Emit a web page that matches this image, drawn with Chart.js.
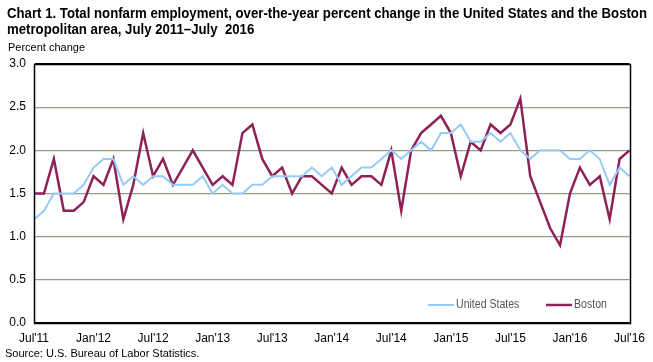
<!DOCTYPE html>
<html>
<head>
<meta charset="utf-8">
<script src="https://cdn.jsdelivr.net/npm/chart.js@4.4.1/dist/chart.umd.min.js"></script>
<style>
  html, body { margin: 0; padding: 0; background: #fff; }
  #wrap { position: relative; width: 653px; height: 362px; overflow: hidden; }
  canvas { position: absolute; left: 0; top: 0; }
  .t { position: absolute; font-family: "Liberation Sans", Arial, sans-serif; color: #000; white-space: nowrap; }
  #title { left: 7px; top: 5px; font-size: 14.5px; font-weight: bold; line-height: 16px; transform-origin: 0 0; }
  #title span { display: inline-block; }
  #unit { left: 8px; top: 41px; font-size: 11px; }
  #source { left: 5px; top: 347px; font-size: 11px; }
</style>
</head>
<body>
<div id="wrap">
  <canvas id="c" width="653" height="362"></canvas>
  <div class="t" id="title"><span id="l1">Chart 1. Total nonfarm employment, over-the-year percent change in the United States and the Boston</span><br><span>metropolitan area, July 2011–July&nbsp; 2016</span></div>
  <div class="t" id="unit">Percent change</div>
  <div class="t" id="source">Source: U.S. Bureau of Labor Statistics.</div>
</div>
<script>
const categories = [
  "Jul'11","Aug'11","Sep'11","Oct'11","Nov'11","Dec'11",
  "Jan'12","Feb'12","Mar'12","Apr'12","May'12","Jun'12",
  "Jul'12","Aug'12","Sep'12","Oct'12","Nov'12","Dec'12",
  "Jan'13","Feb'13","Mar'13","Apr'13","May'13","Jun'13",
  "Jul'13","Aug'13","Sep'13","Oct'13","Nov'13","Dec'13",
  "Jan'14","Feb'14","Mar'14","Apr'14","May'14","Jun'14",
  "Jul'14","Aug'14","Sep'14","Oct'14","Nov'14","Dec'14",
  "Jan'15","Feb'15","Mar'15","Apr'15","May'15","Jun'15",
  "Jul'15","Aug'15","Sep'15","Oct'15","Nov'15","Dec'15",
  "Jan'16","Feb'16","Mar'16","Apr'16","May'16","Jun'16",
  "Jul'16"
];
const tickLabels = ["Jul'11","Jan'12","Jul'12","Jan'13","Jul'13","Jan'14","Jul'14","Jan'15","Jul'15","Jan'16","Jul'16"];
const unitedStates = [
  1.2,1.3,1.5,1.5,1.5,1.6,1.8,1.9,1.9,1.6,
  1.7,1.6,1.7,1.7,1.6,1.6,1.6,1.7,1.5,1.6,
  1.5,1.5,1.6,1.6,1.7,1.7,1.7,1.7,1.8,1.7,
  1.8,1.6,1.7,1.8,1.8,1.9,2.0,1.9,2.0,2.1,
  2.0,2.2,2.2,2.3,2.1,2.1,2.2,2.1,2.2,2.0,
  1.9,2.0,2.0,2.0,1.9,1.9,2.0,1.9,1.6,1.8,1.7
];
const boston = [
  1.5,1.5,1.9,1.3,1.3,1.4,1.7,1.6,1.9,1.2,
  1.6,2.2,1.7,1.9,1.6,1.8,2.0,1.8,1.6,1.7,
  1.6,2.2,2.3,1.9,1.7,1.8,1.5,1.7,1.7,1.6,
  1.5,1.8,1.6,1.7,1.7,1.6,2.0,1.3,2.0,2.2,
  2.3,2.4,2.2,1.7,2.1,2.0,2.3,2.2,2.3,2.6,
  1.7,1.4,1.1,0.9,1.5,1.8,1.6,1.7,1.2,1.9,2.0
];
const seriesNames = ["United States", "Boston"];
const seriesColors = ["#97cbf7", "#8d2158"];

// fit title line 1 to the reference width
(function () {
  const t = document.getElementById('title');
  const w = document.getElementById('l1').getBoundingClientRect().width;
  t.style.transform = 'scaleX(' + (640 / w) + ')';
})();

const FONT = '"Liberation Sans", Arial, sans-serif';

const boxPlugin = {
  id: 'box',
  afterDraw(chart) {
    const a = chart.chartArea, ctx = chart.ctx;
    ctx.save();
    ctx.strokeStyle = '#000';
    ctx.lineWidth = 1.5;
    ctx.strokeRect(Math.round(a.left) + 0.5, Math.round(a.top) + 0.5, Math.round(a.right - a.left), Math.round(a.bottom - a.top));
    ctx.restore();
  }
};

const legendPlugin = {
  id: 'insideLegend',
  afterDatasetsDraw(chart) {
    const ctx = chart.ctx;
    const y = 305;
    const items = [{x: 428, w: 26}, {x: 546, w: 26}];
    ctx.save();
    ctx.font = '12px ' + FONT;
    ctx.textBaseline = 'middle';
    chart.data.datasets.forEach((ds, i) => {
      const it = items[i];
      ctx.strokeStyle = ds.borderColor;
      ctx.lineWidth = ds.borderWidth;
      ctx.beginPath();
      ctx.moveTo(it.x, y);
      ctx.lineTo(it.x + it.w, y);
      ctx.stroke();
      ctx.fillStyle = '#555';
      ctx.save();
      ctx.translate(it.x + it.w + 2, y);
      ctx.scale(0.88, 1);
      ctx.fillText(ds.label, 0, 0);
      ctx.restore();
    });
    ctx.restore();
  }
};

new Chart(document.getElementById('c'), {
  type: 'line',
  data: {
    labels: categories,
    datasets: [
      { label: seriesNames[0], data: unitedStates, borderColor: seriesColors[0], backgroundColor: seriesColors[0], borderWidth: 2, pointRadius: 0, tension: 0 },
      { label: seriesNames[1], data: boston, borderColor: seriesColors[1], backgroundColor: seriesColors[1], borderWidth: 2.5, pointRadius: 0, tension: 0 }
    ]
  },
  options: {
    responsive: false,
    animation: false,
    devicePixelRatio: 1,
    layout: { padding: { left: 0, top: 64, right: 20, bottom: 0 } },
    plugins: { legend: { display: false }, title: { display: false }, tooltip: { enabled: false } },
    scales: {
      x: {
        offset: false,
        afterFit(s) { s.height = 39; },
        grid: { display: false, drawTicks: false },
        border: { display: true, color: '#000' },
        ticks: {
          autoSkip: false, maxRotation: 0, padding: 8, color: '#000',
          font: { family: FONT, size: 12 },
          callback(v, i) { const l = categories[i]; return tickLabels.includes(l) && i % 6 === 0 ? l : ''; }
        }
      },
      y: {
        min: 0, max: 3,
        afterFit(s) { s.width = 34; },
        grid: {
          color(c) { return (c.tick && (c.tick.value === 0 || c.tick.value === 3)) ? '#000' : '#8f9e88'; },
          lineWidth: 1.2,
          drawTicks: false
        },
        border: { display: true, color: '#000' },
        ticks: {
          stepSize: 0.5, padding: 8, color: '#000',
          font: { family: FONT, size: 12 },
          callback(v) { return Number(v).toFixed(1); }
        }
      }
    }
  },
  plugins: [boxPlugin, legendPlugin]
});
</script>
</body>
</html>
